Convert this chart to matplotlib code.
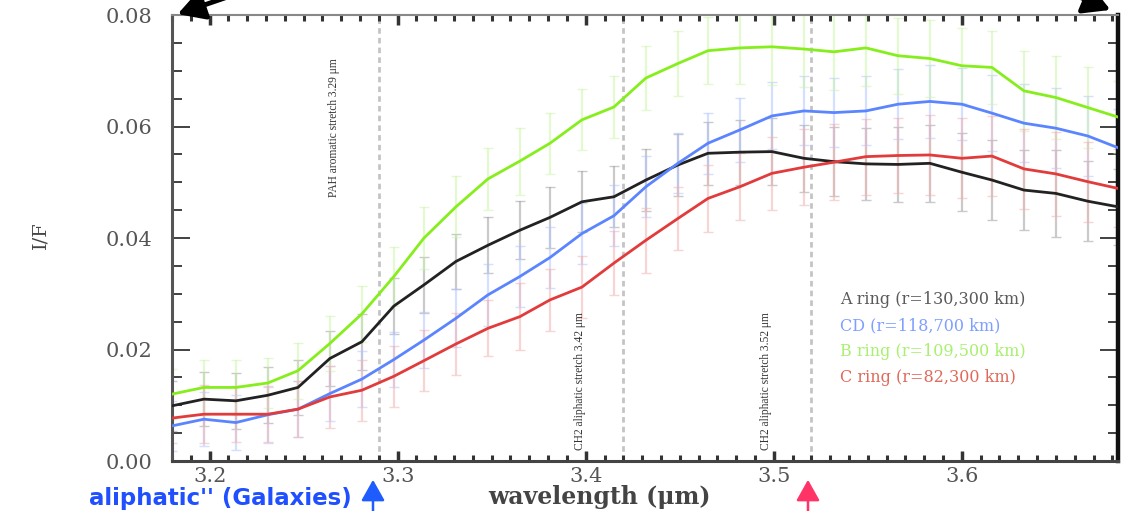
import matplotlib
matplotlib.use("Agg")
import matplotlib.pyplot as plt
from matplotlib.ticker import MultipleLocator, FormatStrFormatter

wavelength = [3.180, 3.197, 3.214, 3.231, 3.247, 3.264, 3.281, 3.298, 3.314, 3.331, 3.348,
              3.365, 3.381, 3.398, 3.415, 3.432, 3.449, 3.465, 3.482, 3.499, 3.516, 3.532,
              3.549, 3.566, 3.583, 3.600, 3.616, 3.633, 3.650, 3.667, 3.683]

a_ring = [0.0099, 0.0111, 0.0108, 0.0118, 0.0132, 0.0184, 0.0214, 0.0278, 0.0316, 0.0358, 0.0387,
          0.0414, 0.0437, 0.0465, 0.0474, 0.0504, 0.0531, 0.0552, 0.0554, 0.0555, 0.0543, 0.0537,
          0.0533, 0.0532, 0.0534, 0.0518, 0.0504, 0.0486, 0.0480, 0.0466, 0.0456]
cd_div = [0.0063, 0.0075, 0.0069, 0.0083, 0.0093, 0.0121, 0.0147, 0.0182, 0.0217, 0.0256, 0.0298,
          0.0331, 0.0365, 0.0408, 0.0440, 0.0492, 0.0534, 0.0570, 0.0594, 0.0619, 0.0628, 0.0625,
          0.0628, 0.0640, 0.0645, 0.0640, 0.0624, 0.0606, 0.0597, 0.0583, 0.0562]
b_ring = [0.0120, 0.0132, 0.0132, 0.0140, 0.0162, 0.0211, 0.0264, 0.0331, 0.0400, 0.0456, 0.0506,
          0.0538, 0.0570, 0.0612, 0.0635, 0.0687, 0.0713, 0.0736, 0.0741, 0.0743, 0.0739, 0.0734,
          0.0741, 0.0727, 0.0722, 0.0709, 0.0706, 0.0664, 0.0652, 0.0634, 0.0617]
c_ring = [0.0077, 0.0084, 0.0084, 0.0084, 0.0093, 0.0115, 0.0127, 0.0152, 0.0180, 0.0210, 0.0238,
          0.0259, 0.0289, 0.0312, 0.0355, 0.0396, 0.0435, 0.0471, 0.0492, 0.0516, 0.0527, 0.0536,
          0.0546, 0.0548, 0.0549, 0.0543, 0.0547, 0.0524, 0.0515, 0.0501, 0.0489]

a_err = [0.0045, 0.0048, 0.005, 0.005, 0.005, 0.005, 0.005, 0.005, 0.005, 0.005, 0.005, 0.0052,
         0.0055, 0.0055, 0.0055, 0.0055, 0.0055, 0.0056, 0.0058, 0.006, 0.006, 0.0062, 0.0065,
         0.0068, 0.0069, 0.007, 0.0072, 0.0072, 0.0078, 0.0072, 0.0068]
cd_err = [0.0045, 0.0048, 0.005, 0.005, 0.005, 0.005, 0.005, 0.005, 0.005, 0.0052, 0.0055, 0.0055,
          0.0055, 0.0055, 0.0055, 0.0055, 0.0054, 0.0055, 0.0058, 0.006, 0.0062, 0.0062, 0.0062,
          0.0063, 0.0065, 0.0065, 0.0068, 0.007, 0.0072, 0.0072, 0.007]
b_err = [0.0045, 0.005, 0.005, 0.0045, 0.005, 0.005, 0.005, 0.0053, 0.0055, 0.0055, 0.0055, 0.006,
         0.0055, 0.0055, 0.0055, 0.0058, 0.0058, 0.006, 0.0065, 0.0068, 0.0068, 0.0068, 0.0068,
         0.0068, 0.0069, 0.0067, 0.0065, 0.0072, 0.0075, 0.0072, 0.0065]
c_err = [0.0045, 0.0052, 0.005, 0.005, 0.005, 0.0055, 0.0055, 0.0055, 0.0055, 0.0055, 0.005, 0.006,
         0.0055, 0.0055, 0.0058, 0.0058, 0.0057, 0.006, 0.006, 0.0065, 0.0068, 0.0068, 0.0068,
         0.0068, 0.0072, 0.0072, 0.0072, 0.0072, 0.0075, 0.0072, 0.007]

labels = ["A ring (r=130,300 km)", "CD (r=118,700 km)", "B ring (r=109,500 km)", "C ring (r=82,300 km)"]
label_y = [0.0289, 0.0242, 0.0197, 0.0149]
bands = [3.29, 3.42, 3.52]
band_labels = ["PAH aromatic stretch 3.29 \u03bcm", "CH2 aliphatic stretch 3.42 \u03bcm", "CH2 aliphatic stretch 3.52 \u03bcm"]

fig = plt.figure(figsize=(11.35, 5.11), dpi=100)
ax = fig.add_axes([0.1515, 0.0978, 0.8335, 0.8728])

series = [(a_ring, a_err, "#222222", "#a0a0a0", "#5a5a5a"),
          (cd_div, cd_err, "#5b84ff", "#b3c6ff", "#7f9fff"),
          (b_ring, b_err, "#86ee1c", "#cdf5ab", "#a8f070"),
          (c_ring, c_err, "#e23b3b", "#f2b3b3", "#e06a5a")]
for vals, err, col, ecol, _ in series:
    ax.errorbar(wavelength, vals, yerr=err, fmt="none", ecolor=ecol, elinewidth=1.6, capsize=3.5,
                capthick=1.0, alpha=0.55, zorder=2)
for vals, err, col, ecol, _ in series:
    ax.plot(wavelength, vals, color=col, lw=2, zorder=3)

for b in bands:
    ax.axvline(b, color="#c4c4c4", lw=2, ls=(0, (2, 1.5)), zorder=1)
narrow = ["Liberation Serif", "DejaVu Serif"]
ax.text(3.266, 0.0722, band_labels[0], rotation=90, ha="center", va="top", fontsize=8.3, family=narrow, color="#333333")
ax.text(3.397, 0.0020, band_labels[1], rotation=90, ha="center", va="bottom", fontsize=8.3, family=narrow, color="#333333")
ax.text(3.496, 0.0020, band_labels[2], rotation=90, ha="center", va="bottom", fontsize=8.3, family=narrow, color="#333333")

for lab, y, s in zip(labels, label_y, series):
    ax.text(3.535, y, lab, color=s[4], fontsize=11.5, family="DejaVu Serif", va="center", ha="left")

ax.set_xlim(wavelength[0], wavelength[-1]); ax.set_ylim(0, 0.08)
ax.xaxis.set_major_locator(MultipleLocator(0.1)); ax.xaxis.set_minor_locator(MultipleLocator(0.01))
ax.yaxis.set_major_locator(MultipleLocator(0.02)); ax.yaxis.set_minor_locator(MultipleLocator(0.005))
ax.xaxis.set_major_formatter(FormatStrFormatter("%.1f")); ax.yaxis.set_major_formatter(FormatStrFormatter("%.2f"))
ax.tick_params(axis="both", which="both", direction="in", top=True, right=True, colors="#333333",
               labelcolor="#555555", labelsize=15)
ax.tick_params(axis="y", which="major", length=13, width=1.3, pad=14)
ax.tick_params(axis="y", which="minor", length=7, width=1.3)
ax.tick_params(axis="x", which="major", length=7, width=2.5, pad=4)
ax.tick_params(axis="x", which="minor", length=4, width=2.2)
for t in ax.get_xticklabels() + ax.get_yticklabels():
    t.set_family("DejaVu Serif")
for side, lw, c in [("left", 2.2, "#555555"), ("bottom", 2.2, "#444444"), ("top", 1.5, "#888888"), ("right", 3.2, "#111111")]:
    ax.spines[side].set_linewidth(lw); ax.spines[side].set_color(c)

fig.text(40 / 1135, 1 - 235 / 511, "I/F", rotation=90, ha="center", va="center", fontsize=14, family="DejaVu Serif", color="#444444")
fig.text(600 / 1135, 1 - 497 / 511, "wavelength (\u03bcm)", ha="center", va="center", fontsize=17,
         family="DejaVu Serif", weight="bold", color="#444444")
fig.text(352 / 1135, 1 - 487 / 511, "aliphatic'' (Galaxies)", ha="right", va="top", fontsize=16.5,
         family="DejaVu Sans", weight="bold", color="#1f4fff")

arrow = dict(arrowstyle="-|>,head_length=0.8,head_width=0.45", lw=3.5, color="black")
fig.add_artist(matplotlib.patches.FancyArrowPatch((245, 520), (175, 496), transform=None, mutation_scale=20, **arrow))
fig.add_artist(matplotlib.patches.FancyArrowPatch((1065, 520), (1113, 500), transform=None, mutation_scale=20, **arrow))
fig.add_artist(matplotlib.patches.FancyArrowPatch((373, -5), (373, 34), transform=None, mutation_scale=16,
               arrowstyle="-|>,head_length=0.8,head_width=0.45", lw=1.8, color="#1f5cff"))
fig.add_artist(matplotlib.patches.FancyArrowPatch((808, -5), (808, 34), transform=None, mutation_scale=16,
               arrowstyle="-|>,head_length=0.8,head_width=0.45", lw=1.8, color="#ff3366"))

fig.savefig("out.png", dpi=100)
